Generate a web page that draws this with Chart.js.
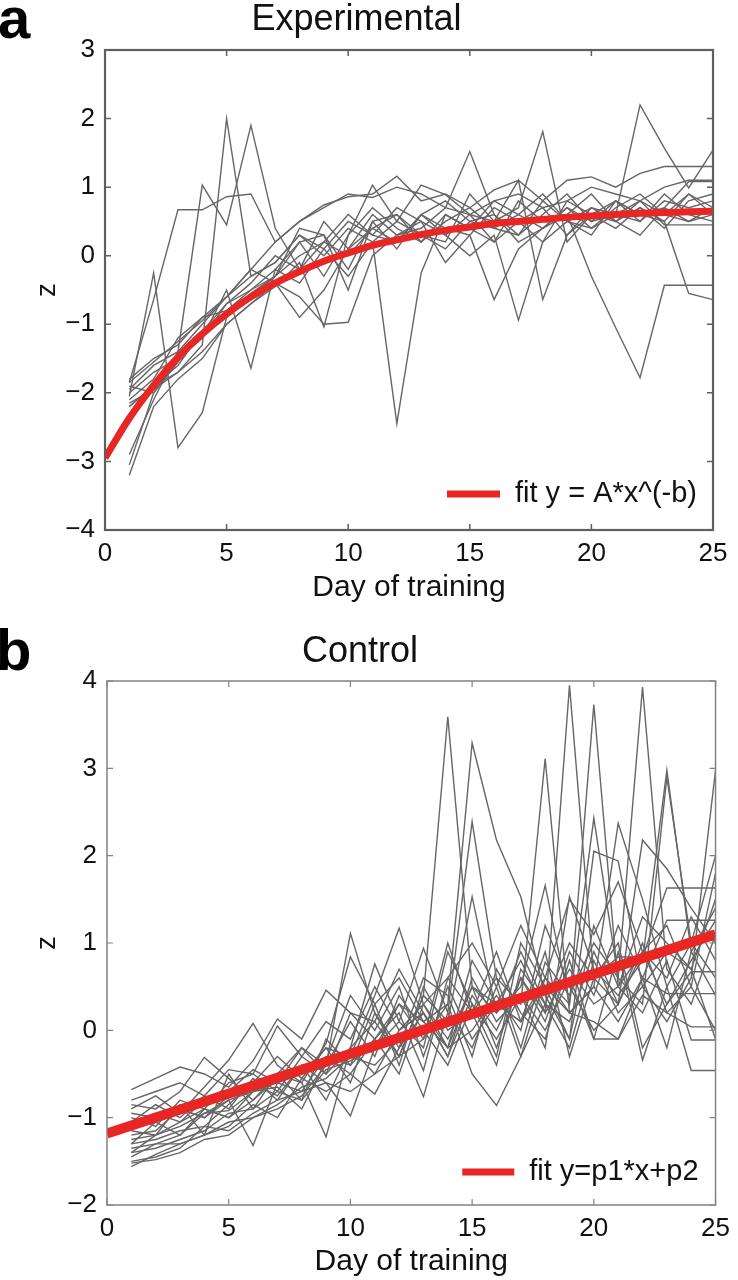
<!DOCTYPE html>
<html><head><meta charset="utf-8">
<script src="https://cdn.jsdelivr.net/npm/chart.js@4.4.1/dist/chart.umd.min.js"></script>
<style>
html,body{margin:0;padding:0;background:#fff;width:738px;height:1280px;overflow:hidden;}
#ca{position:absolute;left:0;top:0;}
#cb{position:absolute;left:0;top:620px;}
.lbl{position:absolute;font-family:"Liberation Sans",Arial,sans-serif;font-weight:bold;font-size:58px;line-height:58px;color:#000;}
</style></head><body>
<canvas id="ca" width="738" height="612"></canvas>
<canvas id="cb" width="738" height="660"></canvas>
<div class="lbl" style="left:-2px;top:-11px">a</div>
<div class="lbl" style="left:-4px;top:621px">b</div>
<script>
// ---- data ----
const days = [1,2,3,4,5,6,7,8,9,10,11,12,13,14,15,16,17,18,19,20,21,22,23,24,25];
const xTicks = [0,5,10,15,20,25];
const yTicksExp = [-4,-3,-2,-1,0,1,2,3];
const yTicksCtl = [-2,-1,0,1,2,3,4];

const fitExpX = [0,1,2,3,4,5,6,7,8,9,10,11,12,13,14,15,16,17,18,19,20,21,22,23,24,25];
const fitExpY = [-2.95,-2.37,-1.89,-1.48,-1.14,-0.85,-0.60,-0.40,-0.23,-0.08,0.04,0.15,0.23,0.31,0.37,0.42,0.47,0.50,0.53,0.56,0.58,0.60,0.62,0.63,0.64,0.65];
const fitCtlX = [0,25];
const fitCtlY = [-1.18,1.10];

const experimentalZ = [
 [-2.05,-0.25,-2.80,-2.29,-0.90,-0.60,-0.30,0.20,0.30,-0.20,0.50,0.10,0.60,0.40,0.30,0.70,0.50,0.20,0.80,0.60,0.40,0.70,0.50,0.90,0.60],
 [-1.85,-0.64,0.67,0.67,0.86,0.90,0.20,0.50,0.70,0.90,0.85,1.00,0.90,0.70,0.60,0.80,0.90,0.70,0.80,1.00,0.90,0.80,1.00,1.10,1.10],
 [-2.20,-1.90,-1.70,-1.30,2.00,-0.30,-0.10,0.30,0.10,0.50,0.30,0.20,0.60,0.80,0.50,0.40,0.60,0.90,0.50,0.70,0.60,0.50,0.80,0.70,0.80],
 [-1.95,-1.60,-1.40,1.03,0.45,1.90,0.40,-0.20,0.20,0.00,0.40,0.60,0.20,0.50,0.70,0.40,0.30,0.60,0.90,0.50,0.80,0.60,0.70,0.50,0.60],
 [-3.05,-2.00,-1.50,-1.20,-0.50,-1.64,-0.20,-0.40,0.10,-0.30,0.20,0.50,0.30,0.10,0.50,0.60,0.20,0.40,0.70,0.40,0.60,0.80,0.60,0.90,0.70],
 [-2.10,-1.80,-1.20,-0.90,-0.60,-0.30,-0.10,0.30,0.00,0.40,0.20,-2.45,-0.25,0.60,0.40,0.20,0.50,0.70,0.30,0.60,0.80,0.50,0.90,0.60,0.50],
 [-2.20,-1.90,-1.60,-1.10,-0.70,-0.40,0.00,-0.20,0.50,0.10,0.60,0.30,0.40,0.70,1.52,0.60,0.30,0.80,0.50,0.40,0.70,0.90,0.60,0.50,0.70],
 [-1.80,-1.50,-1.30,-0.90,-0.80,-0.50,-0.30,0.00,0.20,0.60,0.30,0.70,0.50,0.30,0.60,0.50,0.70,1.81,0.20,0.60,0.50,0.70,0.40,0.80,0.90],
 [-2.00,-1.70,-1.50,-1.20,-0.70,-0.50,-0.20,0.20,-0.30,0.30,0.70,0.40,0.20,0.60,0.40,0.80,0.60,0.40,0.70,0.50,0.60,2.20,1.57,0.99,1.54],
 [-2.90,-2.10,-1.40,-1.00,-0.60,-0.20,-0.40,-0.60,-1.00,-0.97,0.00,0.30,0.50,-0.10,0.30,-0.64,0.10,0.40,0.60,-0.30,-1.05,-1.78,-0.43,-0.43,-0.43],
 [-3.20,-2.20,-1.80,-1.50,-1.00,-0.70,-0.40,-0.90,-0.50,0.10,0.40,0.20,0.60,0.30,0.00,0.30,-0.94,0.20,0.50,0.30,0.80,0.60,0.50,-0.55,-0.64],
 [-1.85,-1.55,-1.25,-0.95,-0.60,-0.20,0.20,0.50,0.74,0.86,0.90,1.16,0.80,0.90,0.70,0.96,1.10,0.80,1.10,1.15,1.00,1.20,1.30,1.30,1.30],
 [-2.15,-1.95,-1.70,-1.40,-1.00,-0.70,-0.45,-0.10,-1.04,0.30,1.03,0.50,1.03,0.89,0.60,0.20,0.80,0.50,0.60,0.90,0.50,0.80,0.45,0.45,0.45],
 [-1.90,-2.00,-1.55,-1.15,-0.85,-0.55,-0.30,0.40,0.30,-0.50,0.50,0.60,0.30,0.20,0.90,0.50,1.10,-0.64,0.30,0.70,0.50,0.30,0.70,1.08,1.08]
];

const controlZ = [
 [-0.68,-0.55,-0.42,-0.50,-0.65,-0.35,0.13,-0.10,0.46,0.20,-0.10,0.30,0.10,-0.20,0.50,0.20,0.90,0.30,1.00,0.60,0.84,0.84,1.63,1.63,1.63],
 [-0.85,-0.90,-0.70,-0.31,-0.55,-0.80,-0.50,-0.20,-0.40,1.11,0.20,-0.30,0.40,3.59,0.50,-0.20,0.60,0.10,0.90,0.40,1.20,0.60,1.26,1.26,1.26],
 [-0.90,-0.75,-0.95,-0.65,-0.34,0.08,-0.40,-0.60,-0.15,0.84,0.30,0.60,0.10,0.30,3.29,2.18,1.53,0.40,-0.10,1.20,0.50,0.90,0.30,0.67,0.67],
 [-1.00,-1.10,-0.80,-0.90,-0.60,-0.50,-0.70,-0.30,-0.50,-0.20,0.76,0.10,0.94,0.20,2.39,0.60,0.30,3.11,0.20,0.50,0.10,0.60,0.42,0.42,0.42],
 [-1.10,-0.95,-1.05,-0.80,-0.70,-0.45,-0.60,-0.50,-0.20,-0.30,0.40,1.17,0.30,-0.10,0.50,0.30,0.80,0.20,3.95,0.60,0.30,1.00,0.20,0.04,0.04],
 [-1.20,-1.15,-0.90,-1.00,-0.80,-1.32,-0.60,-0.70,-0.30,-0.40,-0.10,0.20,-0.46,0.60,0.20,0.90,0.10,0.60,0.30,3.73,0.50,0.20,0.80,-0.11,-0.11],
 [-1.25,-1.20,-1.10,-0.95,-0.92,-0.70,-0.50,-0.60,-1.22,-0.20,0.10,-0.30,0.40,0.10,1.53,0.20,0.50,1.66,0.30,2.43,0.60,3.93,0.70,0.30,1.10],
 [-1.30,-1.25,-1.15,-1.10,-0.85,-0.60,-0.75,-0.40,-0.60,-0.98,-0.20,0.30,-0.10,0.30,-0.50,-0.86,-0.30,0.60,0.20,0.50,2.37,1.50,0.50,1.00,0.60],
 [-1.35,-1.30,-1.20,-0.90,-1.00,-0.80,-0.55,-0.50,-0.30,-0.50,-0.73,-0.20,0.20,-0.30,0.60,0.10,0.40,-0.20,1.53,0.70,0.40,0.80,2.98,0.90,1.40],
 [-1.40,-1.35,-1.25,-1.15,-0.95,-0.90,-0.70,-0.80,-0.45,-0.35,-0.20,0.10,-0.20,0.90,0.30,-0.10,0.40,0.00,0.60,-0.10,0.90,-0.34,0.50,-0.46,-0.46],
 [-1.45,-1.30,-1.30,-1.20,-1.05,-1.00,-0.85,-0.65,-0.55,-0.30,-0.40,-0.10,-0.76,0.20,-0.20,0.50,-0.30,0.30,-0.20,0.80,0.20,0.50,0.10,0.60,2.98],
 [-1.50,-1.45,-1.35,-1.10,-1.15,-0.95,-0.80,-0.70,-0.60,-0.70,-0.50,-0.30,-0.10,1.00,0.20,0.60,-0.20,0.78,0.40,1.00,0.60,0.30,2.90,1.00,2.00],
 [-1.52,-1.48,-1.40,-1.25,-1.20,-1.00,-0.90,-0.75,-0.40,0.10,-0.30,0.40,0.00,-0.40,0.30,-0.30,1.00,0.50,-0.10,2.05,1.94,0.50,0.90,0.70,1.50],
 [-1.56,-1.42,-1.30,-1.20,-1.10,-0.85,-1.00,-0.55,-0.70,-0.50,-0.10,-0.50,0.30,-0.20,0.00,0.40,0.00,1.20,0.50,0.00,0.30,0.90,0.60,1.30,0.80],
 [-0.95,-1.00,-0.90,-1.00,-0.75,-0.60,-0.30,-0.55,-0.20,-0.60,0.20,-0.20,0.60,0.40,-0.30,0.70,0.20,-0.10,0.80,-0.10,-0.10,0.40,0.20,0.50,0.00],
 [-1.05,-0.85,-1.00,-0.75,-0.90,-0.55,-0.80,-0.40,-0.80,-0.20,-0.50,0.00,0.20,-0.30,0.40,0.00,0.60,0.20,0.70,0.30,0.50,1.30,1.00,0.70,-0.10],
 [-1.15,-1.20,-0.85,-1.20,-0.50,-0.90,-0.50,-0.80,-0.10,-0.40,0.30,-0.40,0.50,0.00,0.20,-0.40,0.70,0.30,0.10,0.90,0.30,2.18,1.85,1.40,1.00],
 [-0.80,-0.70,-0.60,-0.75,-0.45,-0.50,0.05,-0.30,0.10,-0.10,0.50,0.00,0.30,0.60,1.00,0.50,1.20,0.60,1.50,1.10,1.70,0.90,1.20,0.50,1.80],
 [-1.30,-1.05,-1.20,-0.95,-0.80,-0.70,-0.65,-0.90,-0.35,0.40,0.00,0.50,-0.30,0.50,-0.10,0.30,0.10,0.90,-0.30,0.60,1.00,-0.20,0.30,0.80,1.26],
 [-1.40,-1.20,-1.05,-0.90,-1.00,-0.70,-0.60,-0.20,-0.50,0.20,0.10,0.70,0.20,-0.20,0.80,0.30,0.10,0.50,0.20,0.10,-0.10,0.60,-0.20,0.90,0.40]
];

const titles = ['Experimental','Control'];
const fitLabels = ['fit y = A*x^(-b)','fit y=p1*x+p2'];
const xTitle = 'Day of training';
const yTitle = 'z';

// ---- rendering ----
const FONT = '"Liberation Sans", Arial, Helvetica, sans-serif';
const GRAY = 'rgb(102,102,102)';
const RED = 'rgb(232,38,36)';

const boxPlugin = {
  id: 'mbox',
  afterDatasetsDraw(chart, args, o) {
    const {ctx, chartArea: a, scales: {x, y}} = chart;
    ctx.save();
    ctx.strokeStyle = o.color;
    ctx.lineWidth = o.width;
    ctx.strokeRect(a.left, a.top, a.right - a.left, a.bottom - a.top);
    ctx.lineWidth = o.tickWidth;
    ctx.beginPath();
    x.ticks.forEach(t => {
      const p = x.getPixelForValue(t.value);
      ctx.moveTo(p, a.bottom); ctx.lineTo(p, a.bottom - o.tick);
      ctx.moveTo(p, a.top); ctx.lineTo(p, a.top + o.tick);
    });
    y.ticks.forEach(t => {
      const p = y.getPixelForValue(t.value);
      ctx.moveTo(a.left, p); ctx.lineTo(a.left + o.tick, p);
      ctx.moveTo(a.right, p); ctx.lineTo(a.right - o.tick, p);
    });
    ctx.stroke();
    // legend entry for the fit dataset
    const ds = chart.data.datasets[0];
    ctx.font = o.legendSize + 'px ' + FONT;
    ctx.fillStyle = '#111';
    ctx.textAlign = 'right';
    ctx.textBaseline = 'middle';
    const ty = a.bottom - o.legendUp;
    const tx = a.right - o.legendRight;
    ctx.fillText(ds.label, tx, ty);
    const w = ctx.measureText(ds.label).width;
    ctx.strokeStyle = ds.borderColor;
    ctx.lineWidth = o.legendLineWidth;
    ctx.beginPath();
    ctx.moveTo(tx - w - o.legendGap - o.legendLen, ty);
    ctx.lineTo(tx - w - o.legendGap, ty);
    ctx.stroke();
    ctx.restore();
  }
};

function buildChart(canvasId, cfg) {
  const datasets = [{
    label: cfg.fitLabel,
    data: cfg.fitX.map((x, i) => ({x, y: cfg.fitY[i]})),
    borderColor: RED, borderWidth: cfg.fitWidth, pointRadius: 0,
    cubicInterpolationMode: 'monotone', borderCapStyle: 'butt'
  }];
  cfg.lines.forEach(arr => datasets.push({
    label: '',
    data: days.map((d, i) => ({x: d, y: arr[i]})),
    borderColor: GRAY, borderWidth: cfg.grayWidth, pointRadius: 0, tension: 0
  }));
  return new Chart(document.getElementById(canvasId), {
    type: 'line',
    data: {datasets},
    plugins: [boxPlugin],
    options: {
      responsive: false, animation: false,
      layout: {padding: {left: 0, right: cfg.padRight, top: 0, bottom: 0}},
      plugins: {
        legend: {display: false}, tooltip: {enabled: false},
        title: {display: true, text: cfg.title, color: '#111',
          font: {family: FONT, size: 36, weight: 'normal', lineHeight: 1.1},
          padding: {top: cfg.titleTop, bottom: cfg.titleBottom}},
        mbox: cfg.box
      },
      scales: {
        x: {type: 'linear', min: 0, max: 25, position: 'bottom',
          afterBuildTicks: s => { s.ticks = xTicks.map(v => ({value: v})); },
          ticks: {padding: 8, color: '#111', font: {family: FONT, size: 26}, maxRotation: 0, autoSkip: false},
          grid: {display: false, drawTicks: false}, border: {display: false},
          title: {display: true, text: xTitle, color: '#111', font: {family: FONT, size: 30}, padding: {top: 0, bottom: cfg.xTitleBottom}},
          afterFit: s => { s.height = cfg.xHeight; }},
        y: {type: 'linear', min: cfg.yTicks[0], max: cfg.yTicks[cfg.yTicks.length - 1],
          afterBuildTicks: s => { s.ticks = cfg.yTicks.map(v => ({value: v})); },
          ticks: {padding: 10, color: '#111', font: {family: FONT, size: 26},
            callback: v => v < 0 ? '\u2212' + Math.abs(v) : String(v)},
          grid: {display: false, drawTicks: false}, border: {display: false},
          title: {display: true, text: yTitle, color: '#111', font: {family: FONT, size: 28}, padding: {top: 30, bottom: 0}},
          afterFit: s => { s.width = cfg.yWidth; }}
      }
    }
  });
}

buildChart('ca', {
  title: titles[0], fitLabel: fitLabels[0], fitX: fitExpX, fitY: fitExpY, lines: experimentalZ,
  yTicks: yTicksExp, fitWidth: 7, grayWidth: 1.4, padRight: 25, titleTop: 0, titleBottom: 10.4,
  xTitleBottom: 6, xHeight: 82, yWidth: 105,
  box: {color: 'rgb(95,95,95)', width: 2.2, tickWidth: 1.5, tick: 6, legendSize: 29, legendUp: 36, legendRight: 16, legendGap: 15, legendLen: 53, legendLineWidth: 7}
});
buildChart('cb', {
  title: titles[1], fitLabel: fitLabels[1], fitX: fitCtlX, fitY: fitCtlY, lines: controlZ,
  yTicks: yTicksCtl, fitWidth: 10, grayWidth: 1.4, padRight: 18, titleTop: 12.2, titleBottom: 9.2,
  xTitleBottom: 0, xHeight: 75, yWidth: 107,
  box: {color: 'rgb(130,130,130)', width: 1.5, tickWidth: 1.2, tick: 6, legendSize: 29, legendUp: 33, legendRight: 17, legendGap: 15, legendLen: 52, legendLineWidth: 7}
});
</script>
</body></html>
